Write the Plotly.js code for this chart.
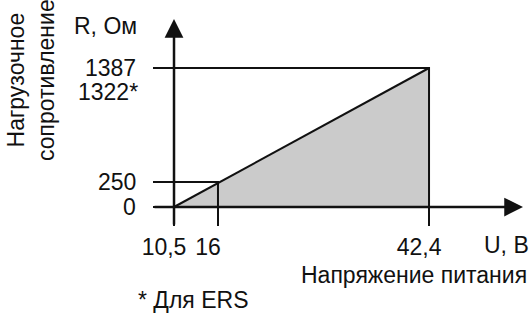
<!DOCTYPE html>
<html>
<head>
<meta charset="utf-8">
<script src="https://cdn.plot.ly/plotly-3.0.1.min.js"></script>
<style>html,body{margin:0;padding:0;background:#fff;}#chart{width:530px;height:313px;}</style>
</head>
<body>
<div id="chart"></div>
<script>
// Data
const U = [10.5, 16, 42.4];          // supply voltage, V
const R = [0, 250, 1387];            // load resistance, Ohm
const R_ERS = 1322;                  // max resistance for ERS variant
const xTickText = ['10,5', '16', '42,4'];
const yTickText = ['0', '250', '1387'];

const W = 530, H = 313;
const px = v => v / W;
const py = v => 1 - v / H;
const FONT = 'Liberation Sans, Arial, Helvetica, sans-serif';
const INK = '#111111';
const FS = 23;

const traces = [
  { // shaded area
    x: [U[0], U[2], U[2]], y: [R[0], R[2], R[0]],
    mode: 'lines', fill: 'toself', fillcolor: '#cbcbcb',
    line: { width: 0 }, hoverinfo: 'skip', showlegend: false
  },
  { // guide for 250
    x: [U[0], U[1], U[1]], y: [R[1], R[1], R[0]],
    mode: 'lines', line: { color: INK, width: 2 }, showlegend: false
  },
  { // guide for 1387
    x: [U[0], U[2], U[2]], y: [R[2], R[2], R[0]],
    mode: 'lines', line: { color: INK, width: 2 }, showlegend: false
  },
  { // load line
    x: [U[0], U[2]], y: [R[0], R[2]],
    mode: 'lines', line: { color: INK, width: 2 }, showlegend: false
  }
];

const yLabelAnns = R.map((v, i) => ({
  xref: 'paper', yref: 'y', x: px(138), y: v, text: yTickText[i],
  showarrow: false, xanchor: 'right', yanchor: 'middle', font: { size: FS }
}));

const layout = {
  width: W, height: H,
  margin: { l: 0, r: 0, t: 0, b: 0 },
  paper_bgcolor: '#ffffff', plot_bgcolor: 'rgba(0,0,0,0)',
  font: { family: FONT, size: FS, color: INK },
  showlegend: false,
  xaxis: {
    range: [-11.267, 55.03], anchor: 'free', position: py(207),
    showgrid: false, zeroline: false, showline: false,
    tickmode: 'array', tickvals: U, ticktext: xTickText,
    ticks: 'outside', ticklen: 18, tickwidth: 2, tickcolor: INK,
    ticklabelshift: -10, ticklabelstandoff: 1,
    tickfont: { family: FONT, size: FS, color: INK }, automargin: false, fixedrange: true
  },
  yaxis: {
    range: [-1057.7, 2065.5], anchor: 'free', position: px(174),
    showgrid: false, zeroline: false, showline: false,
    tickmode: 'array', tickvals: R, showticklabels: false,
    ticks: 'outside', ticklen: 21, tickwidth: 2, tickcolor: INK,
    automargin: false, fixedrange: true
  },
  annotations: yLabelAnns.concat([
    { // y axis arrow
      xref: 'x', yref: 'paper', x: U[0], y: py(19), text: '',
      showarrow: true, ax: 0, ay: 207, arrowhead: 2, arrowsize: 1.5, arrowwidth: 2.5, arrowcolor: INK
    },
    { // x axis arrow
      xref: 'paper', yref: 'y', x: px(523), y: R[0], text: '',
      showarrow: true, ax: -370, ay: 0, arrowhead: 2, arrowsize: 1.5, arrowwidth: 2.5, arrowcolor: INK
    },
    { // ERS value
      xref: 'paper', yref: 'y', x: px(140), y: R[2], yshift: -24, text: R_ERS + '*',
      showarrow: false, xanchor: 'right', yanchor: 'middle', font: { size: FS }
    },
    {
      xref: 'paper', yref: 'paper', x: px(105), y: py(26), text: 'R, Ом',
      showarrow: false, xanchor: 'center', yanchor: 'middle', font: { size: FS }
    },
    {
      xref: 'paper', yref: 'paper', x: px(31), y: py(80), text: 'Нагрузочное<br>сопротивление',
      textangle: -90, showarrow: false, xanchor: 'center', yanchor: 'middle', font: { size: FS }
    },
    {
      xref: 'paper', yref: 'paper', x: px(531), y: py(245), text: 'U, В',
      showarrow: false, xanchor: 'right', yanchor: 'middle', font: { size: FS }
    },
    {
      xref: 'paper', yref: 'paper', x: px(529), y: py(275), text: 'Напряжение питания',
      showarrow: false, xanchor: 'right', yanchor: 'middle', font: { size: FS }
    },
    {
      xref: 'paper', yref: 'paper', x: px(136), y: py(300), text: '* Для ERS',
      showarrow: false, xanchor: 'left', yanchor: 'middle', font: { size: FS }
    }
  ])
};

Plotly.newPlot('chart', traces, layout, { staticPlot: true, displayModeBar: false });
</script>
</body>
</html>
